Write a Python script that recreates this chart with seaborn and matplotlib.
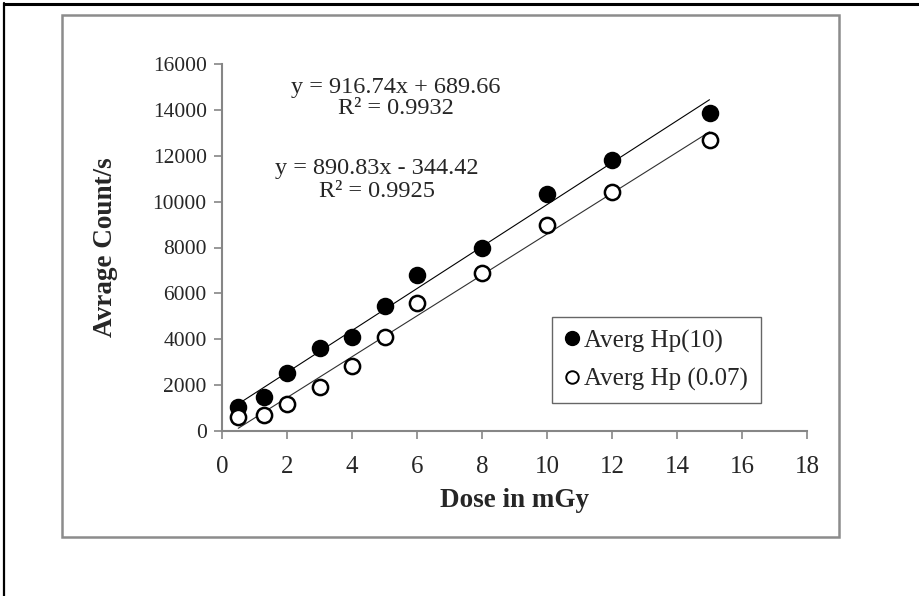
#!/usr/bin/env python3
"""Average count rate vs dose for the Hp(10) and Hp(0.07) readings."""

import matplotlib.pyplot as plt
import pandas as pd
import seaborn as sns
from matplotlib.patches import Rectangle
from matplotlib.lines import Line2D

sns.set_theme(style="white")
plt.rcParams["font.family"] = ["Liberation Serif", "DejaVu Serif"]

DOSE = [0.5, 1.3, 2, 3, 4, 5, 6, 8, 10, 12, 15]
HP10 = [1050, 1480, 2550, 3620, 4100, 5460, 6780, 8000, 10330, 11800, 13880]
HP007 = [610, 700, 1180, 1920, 2840, 4100, 5590, 6900, 8990, 10420, 12680]
SERIES_LABELS = ["Averg Hp(10)", "Averg Hp (0.07)"]
FIT_TEXT = [
    "y = 916.74x + 689.66\nR² = 0.9932",
    "y = 890.83x - 344.42\nR² = 0.9925",
]
X_TICKS = list(range(0, 19, 2))
Y_TICKS = list(range(0, 16001, 2000))

df = pd.DataFrame({"dose": DOSE, "hp10": HP10, "hp007": HP007})

W, H = 920, 596
fig = plt.figure(figsize=(W / 100, H / 100), dpi=100)
ax = fig.add_axes([222 / W, 1 - 431 / H, 585 / W, 367 / H])

# outer frame (only top and left visible) and grey chart-area box
fig.add_artist(Line2D([4 / W, 4 / W], [0, 1 - 3 / H], color="black", lw=1.6,
                      transform=fig.transFigure))
fig.add_artist(Line2D([4 / W, 1], [1 - 4 / H, 1 - 4 / H], color="black", lw=2.2,
                      transform=fig.transFigure))
fig.add_artist(Rectangle((62 / W, 1 - 537 / H), 777 / W, 522 / H, fill=False,
                         edgecolor="#8c8c8c", lw=1.8, transform=fig.transFigure))

grey = "#868686"
sns.regplot(data=df, x="dose", y="hp10", scatter=False, ci=None, truncate=True,
            line_kws={"color": "black", "lw": 0.8}, ax=ax)
sns.regplot(data=df, x="dose", y="hp007", scatter=False, ci=None, truncate=True,
            line_kws={"color": "#303030", "lw": 0.8}, ax=ax)
sns.scatterplot(data=df, x="dose", y="hp10", s=130, color="black",
                edgecolor="black", linewidth=1.2, ax=ax, zorder=3)
sns.scatterplot(data=df, x="dose", y="hp007", s=120, facecolor="white",
                edgecolor="black", linewidth=1.8, ax=ax, zorder=3)

ax.set_xlim(0, 18)
ax.set_ylim(0, 16000)
ax.set_xticks(X_TICKS)
ax.set_yticks(Y_TICKS)
ax.tick_params(axis="x", labelsize=18, length=6, width=1.2, color=grey,
               direction="out", pad=12, bottom=True)
ax.tick_params(axis="y", labelsize=15.5, length=6, width=1.2, color=grey,
               direction="out", pad=5, left=True)
for side in ("top", "right"):
    ax.spines[side].set_visible(False)
for side in ("left", "bottom"):
    ax.spines[side].set_color(grey)
    ax.spines[side].set_linewidth(1.5)

ax.set_xlabel("Dose in mGy", fontsize=19.5, fontweight="bold", labelpad=7)
ax.set_ylabel("Avrage Count/s", fontsize=19.5, fontweight="bold", labelpad=25)

ax.text(396 / W, 1 - 98 / H, FIT_TEXT[0], transform=fig.transFigure,
        ha="center", va="center", fontsize=17.5, linespacing=1.05)
ax.text(377 / W, 1 - 180 / H, FIT_TEXT[1], transform=fig.transFigure,
        ha="center", va="center", fontsize=17.5, linespacing=1.1)

handles = [
    Line2D([], [], ls="", marker="o", markersize=10, color="black"),
    Line2D([], [], ls="", marker="o", markersize=9, markerfacecolor="white",
           markeredgecolor="black", markeredgewidth=1.4),
]
leg = ax.legend(handles, SERIES_LABELS, loc="upper left",
                bbox_to_anchor=(552 / W, 1 - 317 / H), bbox_transform=fig.transFigure,
                borderaxespad=0, fontsize=18, frameon=True, fancybox=False,
                handlelength=0.6, handletextpad=0.2, labelspacing=0.6,
                borderpad=0.5)
leg.get_frame().set_edgecolor("#404040")
leg.get_frame().set_linewidth(1.0)

fig.savefig("out.png", dpi=100)
